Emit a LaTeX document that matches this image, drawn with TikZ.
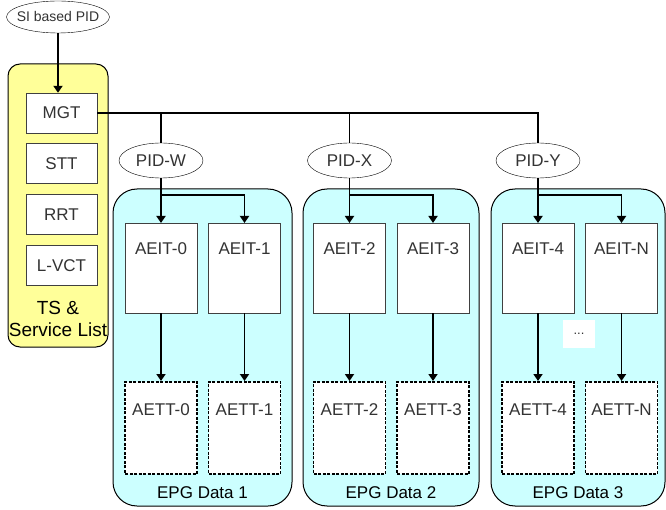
\documentclass[tikz,border=0pt]{standalone}
\usepackage{fontspec}
\setmainfont{Liberation Sans}
\usetikzlibrary{shapes.geometric,arrows.meta}
\definecolor{tsyellow}{HTML}{FFFF99}
\definecolor{epgcyan}{HTML}{CCFFFF}
\definecolor{lbl}{HTML}{333333}
\tikzstyle{ts}=[draw=black, fill=tsyellow, rounded corners=12pt, minimum width=100pt, minimum height=283pt, inner sep=0pt, line width=1pt]
\tikzstyle{grp}=[draw=black, fill=epgcyan, rounded corners=24pt, minimum height=317pt, inner sep=0pt, line width=1pt]
\tikzstyle{tbl}=[draw=black!75, fill=white, minimum width=71pt, minimum height=40pt, inner sep=0pt, text=lbl]
\tikzstyle{eit}=[draw=black!75, fill=white, minimum width=72pt, inner sep=0pt, text height=31.5pt, text depth=58.5pt, text=lbl, anchor=north]
\tikzstyle{ett}=[eit, draw=black, dash pattern=on 3pt off 1.5pt, line width=1.7pt, text height=33.5pt, text depth=58.5pt]
\tikzstyle{pid}=[draw=black, fill=white, shape=ellipse, minimum width=84pt, minimum height=35pt, inner sep=0pt, text=lbl]
\tikzstyle{wire}=[-, line width=1.8pt]
\tikzstyle{arr}=[-{Triangle[length=7pt,width=9pt]}, line width=1.8pt]

\begin{document}
\begin{tikzpicture}[x=1pt, y=-1pt, font=\fontsize{17}{20}\selectfont]
    \useasboundingbox (0,0) rectangle (666,510);

    \node [ts] (ts) at (58,205.5) {};
    \node [pid, minimum width=103pt, minimum height=32pt, font=\fontsize{14}{16}\selectfont] (si) at (58,17) {\makebox[0pt]{SI based PID}};
    \node [tbl] (mgt) at (61.5,113) {MGT};
    \node [tbl] (stt) at (61.5,163.5) {STT};
    \node [tbl] (rrt) at (61.5,214.5) {RRT};
    \node [tbl] (lvct) at (61.5,265.5) {L-VCT};
    \node [align=center, font=\fontsize{19}{22}\selectfont] (tsname) at (58,319) {TS \&\\Service List};

    \node [grp, minimum width=179pt] (g1) at (202.5,347.5) {};
    \node [grp, minimum width=176pt] (g2) at (391,347.5) {};
    \node [grp, minimum width=174pt] (g3) at (578,347.5) {};
    \node (d1) at (202.5,493) {EPG Data 1};
    \node (d2) at (391,493) {EPG Data 2};
    \node (d3) at (578,493) {EPG Data 3};

    \node [pid] (pidw) at (161,160.5) {PID-W};
    \node [pid] (pidx) at (349.5,160.5) {PID-X};
    \node [pid] (pidy) at (538,160.5) {PID-Y};

    \node [eit] (aeit0) at (161,223) {AEIT-0};
    \node [eit] (aeit1) at (244.5,223) {AEIT-1};
    \node [eit] (aeit2) at (349.5,223) {AEIT-2};
    \node [eit] (aeit3) at (433,223) {AEIT-3};
    \node [eit] (aeit4) at (538,223) {AEIT-4};
    \node [eit] (aeitn) at (621.5,223) {AEIT-N};

    \node [ett] (aett0) at (161,381) {AETT-0};
    \node [ett] (aett1) at (244.5,381) {AETT-1};
    \node [ett] (aett2) at (349.5,381) {AETT-2};
    \node [ett] (aett3) at (433,381) {AETT-3};
    \node [ett] (aett4) at (538,381) {AETT-4};
    \node [ett] (aettn) at (621.5,381) {AETT-N};

    \node [fill=white, minimum width=32pt, minimum height=28pt, inner sep=0pt, text=lbl, font=\fontsize{13}{15}\selectfont] (more) at (579,334) {...};

    \draw [arr] (si.south) -- (si.south |- mgt.north);
    \draw [-, line width=1.2pt] (mgt.east) -| (pidy.north);
    \draw [wire] (pidw.north) -- (pidw.north |- mgt.east);
    \draw [wire] (pidx.north) -- (pidx.north |- mgt.east);

    \draw [arr] (pidw.south) -- (aeit0.north);
    \draw [arr] (pidw.south) -- ++(0,17) -| (aeit1.north);
    \draw [arr] (pidx.south) -- (aeit2.north);
    \draw [arr] (pidx.south) -- ++(0,17) -| (aeit3.north);
    \draw [arr] (pidy.south) -- (aeit4.north);
    \draw [arr] (pidy.south) -- ++(0,17) -| (aeitn.north);

    \draw [arr] (aeit0) -- (aett0);
    \draw [arr] (aeit1) -- (aett1);
    \draw [arr] (aeit2) -- (aett2);
    \draw [arr] (aeit3) -- (aett3);
    \draw [arr] (aeit4) -- (aett4);
    \draw [arr] (aeitn) -- (aettn);
\end{tikzpicture}
\end{document}
